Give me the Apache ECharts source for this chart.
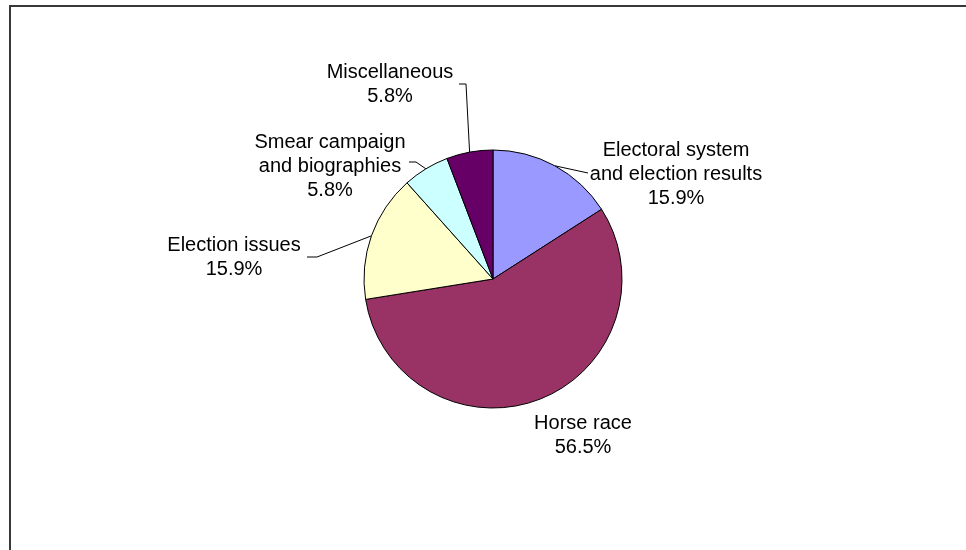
<!DOCTYPE html>
<html>
<head>
<meta charset="utf-8">
<script src="https://cdn.jsdelivr.net/npm/echarts@6/dist/echarts.min.js"></script>
<style>
html,body{margin:0;padding:0;background:#ffffff;}
#chart{width:966px;height:550px;}
</style>
</head>
<body>
<div id="chart"></div>
<script>
// Coverage categories and their share of items (%)
const categories = [
  'Electoral system\nand election results',
  'Horse race',
  'Election issues',
  'Smear campaign\nand biographies',
  'Miscellaneous'
];
const shares = [15.9, 56.5, 15.9, 5.8, 5.8];

// Slice fills
const sliceColors = ['#9999FF', '#993366', '#FFFFCC', '#CCFFFF', '#660066'];

// Label block centres and leader-line bends (px)
const labelAnchors = [[676, 174], [583, 435], [234, 257], [330, 166], [390, 84]];
const leaderBends = [
  [[588, 173]],
  null,
  [[317, 257], [307, 257]],
  [[416, 162], [409, 162]],
  [[466, 84], [459, 84]]
];

const chart = echarts.init(document.getElementById('chart'), null, { renderer: 'canvas' });

const pieData = categories.map((name, i) => ({
  name: name,
  value: shares[i],
  itemStyle: { color: sliceColors[i] },
  labelLine: { show: leaderBends[i] !== null }
}));

chart.setOption({
  animation: false,
  backgroundColor: '#ffffff',
  graphic: [{
    type: 'rect',
    silent: true,
    shape: { x: 10, y: 6, width: 1000, height: 600 },
    style: { fill: 'none', stroke: '#383838', lineWidth: 2 }
  }],
  series: [{
    type: 'pie',
    center: [493, 279],
    radius: 129,
    startAngle: 90,
    clockwise: true,
    avoidLabelOverlap: false,
    itemStyle: { borderColor: '#000000', borderWidth: 1 },
    emphasis: { disabled: true },
    label: {
      show: true,
      position: 'outside',
      fontFamily: '"Liberation Sans", Arial, sans-serif',
      fontSize: 20,
      lineHeight: 24,
      color: '#000000',
      align: 'center',
      formatter: p => p.name + '\n' + p.value.toFixed(1) + '%'
    },
    labelLine: {
      show: true,
      length: 10,
      length2: 10,
      lineStyle: { color: '#000000', width: 1 }
    },
    labelLayout: function (params) {
      const i = params.dataIndex;
      const a = labelAnchors[i];
      const out = { x: a[0], y: a[1], align: 'center', verticalAlign: 'middle' };
      if (leaderBends[i] && params.labelLinePoints) {
        out.labelLinePoints = [params.labelLinePoints[0]].concat(leaderBends[i]);
      }
      return out;
    },
    data: pieData
  }]
});
</script>
</body>
</html>
